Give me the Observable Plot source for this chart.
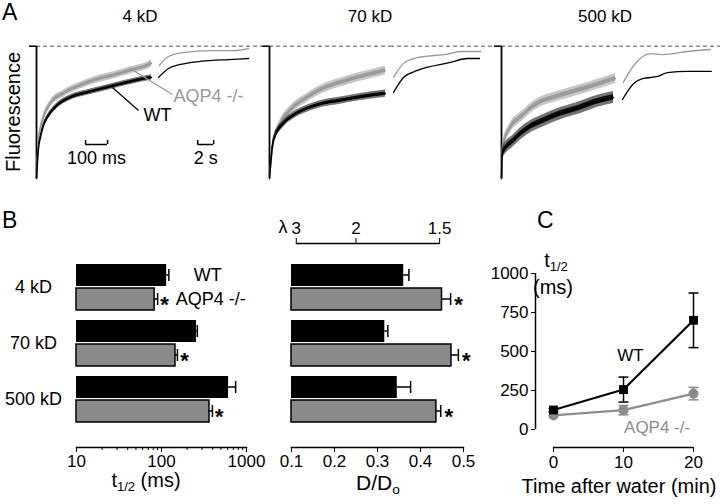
<!DOCTYPE html>
<html><head><meta charset="utf-8">
<script src="https://cdn.jsdelivr.net/npm/d3@7"></script>
<script src="https://cdn.jsdelivr.net/npm/@observablehq/plot@0.6"></script>
<style>
body{margin:0;background:#fff;}
#fig{position:relative;width:720px;height:504px;overflow:hidden;background:#fff;font-family:"Liberation Sans",Arial,Helvetica,sans-serif;color:#000;}
.lbl{position:absolute;white-space:nowrap;line-height:1;}
.lbl sub{font-size:0.65em;vertical-align:-0.3em;line-height:0;}
</style></head><body><div id="fig"></div><script>
// ================= DATA =================
const sizes = ["4 kD", "70 kD", "500 kD"];
const genotypes = ["WT", "AQP4 -/-"];

// Panel A, fast phase: time (ms) and fluorescence as fraction of final (dashed line = 1)
const a4_ko_t   = [0, 9, 18, 32, 64, 123, 200, 277, 350, 427, 505, 523];
const a4_ko_f   = [0, .287, .377, .462, .567, .642, .703, .749, .779, .817, .854, .870];
const a4_wt_t   = [0, 9, 18, 32, 50, 95, 155, 232, 323, 395, 473, 523];
const a4_wt_f   = [0, .227, .310, .401, .462, .552, .612, .650, .688, .718, .748, .764];
const a70_ko_t  = [0, 14, 50, 95, 173, 245, 323, 400, 473, 527];
const a70_ko_f  = [0, .234, .415, .514, .612, .680, .726, .764, .794, .817];
const a70_wt_t  = [0, 18, 64, 109, 173, 245, 323, 400, 527];
const a70_wt_f  = [0, .287, .415, .476, .529, .567, .589, .612, .642];
const a500_ko_t = [0, 4.5, 41, 86, 164, 236, 314, 391, 464, 518];
const a500_ko_f = [0, .234, .386, .462, .567, .612, .650, .688, .726, .756];
const a500_wt_t = [0, 4.5, 55, 118, 191, 268, 345, 418, 509];
const a500_wt_f = [0, .189, .287, .377, .438, .491, .529, .574, .612];
// half-amplitude of the noise band of each fast record
const noiseA = {a4_ko: .027, a4_wt: .021, a70_ko: .034, a70_wt: .027, a500_ko: .038, a500_wt: .046};

// Panel A, slow phase: time (s)
const s4_ko_t   = [0.1, 1.25, 3.1, 6.5, 9.4, 11.25];
const s4_ko_f   = [.854, .922, .952, .967, .967, .982];
const s4_wt_t   = [0, 1.25, 2.75, 5.25, 9.4, 11.25];
const s4_wt_f   = [.764, .832, .862, .885, .900, .907];
const s70_ko_t  = [0, 1.25, 2.5, 7.1, 8.4, 10.9];
const s70_ko_f  = [.764, .870, .907, .944, .960, .960];
const s70_wt_t  = [0, 1.25, 3, 7.1, 9.25, 10.75];
const s70_wt_f  = [.650, .764, .817, .877, .907, .907];
const s500_ko_t = [0.1, 1.4, 3.5, 5, 8.1, 11];
const s500_ko_f = [.726, .854, .944, .937, .960, .975];
const s500_wt_t = [0, 1.4, 2.6, 4.4, 5.6, 8.1, 11.1];
const s500_wt_f = [.597, .718, .756, .771, .801, .809, .809];

// scale bars (panel A)
const barFast = [{t0: 223, t1: 323, f: 0.257, text: "100 ms"}];
const barSlow = [{t0: 4.9, t1: 6.9, f: 0.257, text: "2 s"}];

// Panel B
const t12_wt = [115, 258, 615], t12_wt_err = [7, 6, 130];
const t12_ko = [83, 146, 367],  t12_ko_err = [7, 8, 30];
const dd_wt = [0.361, 0.317, 0.346], dd_wt_err = [0.012, 0.007, 0.031];
const dd_ko = [0.450, 0.472, 0.437], dd_ko_err = [0.020, 0.016, 0.010];
const t12Ticks = [10, 100, 1000];
const t12Minor = [20, 30, 40, 50, 60, 70, 80, 90, 200, 300, 400, 500, 600, 700, 800, 900];
const ddTicks = [0.1, 0.2, 0.3, 0.4, 0.5];
const lambdaTicks = [3, 2, 1.5];

// Panel C
const timeC = [0, 10, 20];
const c_wt = [125, 256, 700], c_wt_err = [10, 80, 175];
const c_ko = [90, 124, 230],  c_ko_err = [0, 30, 40];
const cYTicks = [0, 250, 500, 750, 1000];
const cXTicks = [0, 10, 20];

// ================= HELPERS =================
const FONT = '"Liberation Sans", Arial, Helvetica, sans-serif';
const GRAY = "#999";
const fig = document.getElementById("fig");
function plotAt(left, top, opts) {
  const svg = Plot.plot({...opts, style: {fontFamily: FONT, fontSize: "17px", background: "transparent", overflow: "visible", color: "#000"}});
  svg.style.position = "absolute";
  svg.style.left = left + "px";
  svg.style.top = top + "px";
  fig.appendChild(svg);
  return svg;
}
function label(html, x, baseline, size, anchor = "start", color = "#000") {
  const d = document.createElement("div");
  d.className = "lbl";
  d.innerHTML = html;
  d.style.fontSize = size + "px";
  d.style.left = x + "px";
  d.style.top = (baseline - 0.8465 * size) + "px";
  d.style.color = color;
  if (anchor === "middle") d.style.transform = "translateX(-50%)";
  if (anchor === "end") d.style.transform = "translateX(-100%)";
  fig.appendChild(d);
  return d;
}
const rows = (t, f, n = 0) => t.map((ti, i) => ({t: ti, f: f[i], n}));

// ================= PANEL A =================
const aTop = 40, aY1 = 45.7, aY0 = 178, aBottom = 200;
const msPx = 0.22, sPx = 8;
const dash = () => Plot.ruleY([1], {stroke: "#555", strokeWidth: 1, strokeDasharray: "4,3"});

function scaleBar(bar, h) {
  return [
    Plot.ruleY(bar, {x1: "t0", x2: "t1", y: "f", strokeWidth: 1.5}),
    Plot.ruleX(bar.flatMap(d => [{t: d.t0, f: d.f}, {t: d.t1, f: d.f}]), {x: "t", y1: "f", y2: d => d.f + h, strokeWidth: 1.5}),
    Plot.text(bar, {x: d => (d.t0 + d.t1) / 2, y: "f", text: "text", lineAnchor: "top", dy: 7, fontSize: 18})
  ];
}
function noisyTrace(data, color) {
  return [
    Plot.areaY(data, {x: "t", y1: d => d.f - d.n, y2: d => d.f + d.n, fill: color, fillOpacity: 0.55, curve: "monotone-x"}),
    Plot.areaY(data, {x: "t", y1: d => d.f - d.n * 0.45, y2: d => d.f + d.n * 0.45, fill: color, fillOpacity: 0.9, curve: "monotone-x"}),
    Plot.line(data, {x: "t", y: "f", stroke: color, strokeWidth: 1.5, curve: "monotone-x"})
  ];
}

function fastPlot(left, zeroX, right, ko, wt, extra = []) {
  return plotAt(left, aTop, {
    width: right - left, height: aBottom - aTop,
    marginLeft: zeroX - left, marginRight: 0, marginTop: aY1 - aTop, marginBottom: aBottom - aY0,
    x: {domain: [0, (right - zeroX) / msPx], axis: null},
    y: {domain: [0, 1], axis: null},
    marks: [
      dash(),
      Plot.ruleY([1], {x1: -(zeroX - left) / msPx, x2: 0, strokeWidth: 1.5}),
      Plot.ruleX([0], {y1: 0, y2: 1, strokeWidth: 1.8}),
      ...noisyTrace(ko, GRAY),
      ...noisyTrace(wt, "#000"),
      ...extra
    ]
  });
}
function slowPlot(left, zeroX, right, ko, wt, extra = []) {
  return plotAt(left, aTop, {
    width: right - left, height: aBottom - aTop,
    marginLeft: 0, marginRight: 0, marginTop: aY1 - aTop, marginBottom: aBottom - aY0,
    x: {domain: [(left - zeroX) / sPx, (right - zeroX) / sPx], axis: null},
    y: {domain: [0, 1], axis: null},
    marks: [
      dash(),
      Plot.line(ko, {x: "t", y: "f", stroke: GRAY, strokeWidth: 1.3, curve: "monotone-x"}),
      Plot.line(wt, {x: "t", y: "f", stroke: "#000", strokeWidth: 1.3, curve: "monotone-x"}),
      ...extra
    ]
  });
}

const pointerKO = [{t1: 441, f1: .817, t2: 618, f2: .635}];
const pointerWT = [{t1: 345, f1: .688, t2: 464, f2: .514}];
const labelKO = [{text: genotypes[1], t: 623, f: .620}];
const labelWT = [{text: genotypes[0], t: 486, f: .476}];

fastPlot(29, 36, 155, rows(a4_ko_t, a4_ko_f, noiseA.a4_ko), rows(a4_wt_t, a4_wt_f, noiseA.a4_wt), [
  ...scaleBar(barFast, 0.03),
  Plot.link(pointerKO, {x1: "t1", y1: "f1", x2: "t2", y2: "f2", stroke: GRAY, strokeWidth: 1.2}),
  Plot.link(pointerWT, {x1: "t1", y1: "f1", x2: "t2", y2: "f2", stroke: "#000", strokeWidth: 1.2}),
  Plot.text(labelKO, {x: "t", y: "f", text: "text", fill: GRAY, textAnchor: "start", fontSize: 18}),
  Plot.text(labelWT, {x: "t", y: "f", text: "text", fill: "#000", textAnchor: "start", fontSize: 18})
]);
slowPlot(155, 158, 262, rows(s4_ko_t, s4_ko_f), rows(s4_wt_t, s4_wt_f), scaleBar(barSlow, 0.03));
fastPlot(262, 269, 390, rows(a70_ko_t, a70_ko_f, noiseA.a70_ko), rows(a70_wt_t, a70_wt_f, noiseA.a70_wt));
slowPlot(390, 393, 494, rows(s70_ko_t, s70_ko_f), rows(s70_wt_t, s70_wt_f));
fastPlot(494, 501, 619, rows(a500_ko_t, a500_ko_f, noiseA.a500_ko), rows(a500_wt_t, a500_wt_f, noiseA.a500_wt));
slowPlot(619, 622, 720, rows(s500_ko_t, s500_ko_f), rows(s500_wt_t, s500_wt_f));

label("A", 2, 20, 23);
label(sizes[0], 140, 22.5, 17, "middle");
label(sizes[1], 370, 22.5, 17, "middle");
label(sizes[2], 605, 22.5, 17, "middle");
const fl = label("Fluorescence", 13, 0, 20);
fl.style.top = "112px";
fl.style.transform = "translate(-50%,-50%) rotate(-90deg)";

// ================= PANEL B =================
const bTop = 254, bMT = 10, bAxis = 447, bMB = 40;
const bandY = {domain: sizes, paddingInner: 10 / 56, paddingOuter: 0, insetBottom: 25, round: false, axis: null};
function bRows(v, e) { return sizes.map((s, i) => ({size: s, v: v[i], e: e[i]})); }

function barMarks(wt, ko, base, starDx) {
  const bw = 46, bh = 22, half = bh / 2;
  return [
    Plot.barX(wt, {y: "size", x1: () => base, x2: "v", fill: "#000", insetBottom: bw - bh}),
    Plot.barX(ko, {y: "size", x1: () => base, x2: "v", fill: "#8a8a8a", stroke: "#000", strokeWidth: 1.5, insetTop: bw - bh}),
    Plot.barX(wt, {y: "size", x1: "v", x2: d => d.v + d.e, fill: "#000", insetTop: half - 0.75, insetBottom: bw - half - 0.75}),
    Plot.barX(ko, {y: "size", x1: "v", x2: d => d.v + d.e, fill: "#000", insetTop: bw - half - 0.75, insetBottom: half - 0.75}),
    Plot.tickX(wt, {y: "size", x: d => d.v + d.e, strokeWidth: 1.5, insetTop: half - 6, insetBottom: bw - half - 6}),
    Plot.tickX(ko, {y: "size", x: d => d.v + d.e, strokeWidth: 1.5, insetTop: bw - half - 6, insetBottom: half - 6}),
    Plot.text(ko, {y: "size", x: d => d.v + d.e, text: () => "*", dx: starDx, dy: 17, fontSize: 22, fontWeight: "bold"})
  ];
}

// B left: t1/2 (log)
const wtT = bRows(t12_wt, t12_wt_err), koT = bRows(t12_ko, t12_ko_err);
plotAt(0, bTop, {
  width: 266, height: bAxis - bTop + bMB, marginLeft: 76, marginRight: 20, marginTop: bMT, marginBottom: bMB,
  x: {type: "log", domain: [10, 1000]},
  y: bandY,
  marks: [
    ...barMarks(wtT, koT, 10, 7),
    Plot.text(sizes, {y: d => d, frameAnchor: "left", dx: -43, textAnchor: "middle", fontSize: 18}),
    Plot.text([genotypes[0]], {y: () => sizes[0], x: () => 350, dy: -12, fontSize: 18}),
    Plot.text([genotypes[1]], {y: () => sizes[0], x: () => 380, dy: 12, fontSize: 18}),
    Plot.frame({anchor: "bottom", strokeWidth: 1.5}),
    Plot.axisX({ticks: t12Ticks, tickSize: 5, tickPadding: 2, fontSize: 17, tickFormat: d => String(d), label: null}),
    Plot.axisX({ticks: t12Minor, tickSize: 3, tickFormat: () => "", label: null})
  ]
});
label("t<sub>1/2</sub> (ms)", 146, 487, 20, "middle");

// B right: D/Do
const wtD = bRows(dd_wt, dd_wt_err), koD = bRows(dd_ko, dd_ko_err);
plotAt(281, bTop, {
  width: 202, height: bAxis - bTop + bMB, marginLeft: 10, marginRight: 20, marginTop: bMT, marginBottom: bMB,
  x: {domain: [0.1, 0.5]},
  y: bandY,
  marks: [
    ...barMarks(wtD, koD, 0.1, 8),
    Plot.frame({anchor: "bottom", strokeWidth: 1.5}),
    Plot.axisX({ticks: ddTicks, tickSize: 5, tickPadding: 2, fontSize: 17, tickFormat: d => d.toFixed(1), label: null})
  ]
});
label("D/D<sub>o</sub>", 378, 490, 21, "middle");

// lambda axis (D/Do = 1/lambda^2)
plotAt(281, 213, {
  width: 202, height: 31, marginLeft: 10, marginRight: 20, marginTop: 30, marginBottom: 0,
  x: {domain: [0.1, 0.5], axis: null},
  y: {domain: [0, 1], axis: null},
  marks: [
    Plot.ruleY([1], {x1: () => 1 / (lambdaTicks[0] ** 2), x2: () => 1 / (lambdaTicks[lambdaTicks.length - 1] ** 2), strokeWidth: 1.5}),
    Plot.axisX({anchor: "top", ticks: lambdaTicks.map(l => 1 / (l * l)), tickSize: 6, tickPadding: 4, fontSize: 17,
      tickFormat: d => String(Math.round(Math.sqrt(1 / d) * 10) / 10), label: null})
  ]
});
label("λ", 283, 233, 18, "middle");
label("B", 2, 228, 23);

// ================= PANEL C =================
const cRows = (v, e) => timeC.map((t, i) => ({t, v: v[i], e: e[i]}));
const cWT = cRows(c_wt, c_wt_err), cKO = cRows(c_ko, c_ko_err);
const capSymbol = {draw(ctx, size) { const w = Math.sqrt(size / Math.PI); ctx.moveTo(-w, 0); ctx.lineTo(w, 0); }};
const CGRAY = "#8c8c8c";
const labelsC = [{text: genotypes[0], t: 11, v: 474}];
const labelsC2 = [{text: genotypes[1], t: 14.8, v: 13}];
plotAt(495, 263, {
  width: 225, height: 224, marginLeft: 40, marginRight: 27, marginTop: 10, marginBottom: 40,
  x: {domain: [0, 20], insetLeft: 18},
  y: {domain: [0, 1000], insetBottom: 18},
  marks: [
    Plot.ruleX([0], {y1: 0, y2: 1000, dx: -18, strokeWidth: 1.5}),
    Plot.ruleY([0], {x1: 0, x2: 20, dy: 18, strokeWidth: 1.5}),
    Plot.axisY({ticks: cYTicks, tickSize: 4, tickPadding: 3, fontSize: 17, tickFormat: d => String(d), label: null}),
    Plot.axisX({ticks: cXTicks, tickSize: 5, tickPadding: 3, fontSize: 17, tickFormat: d => String(d), label: null}),
    Plot.ruleX(cKO, {x: "t", y1: d => d.v - d.e, y2: d => d.v + d.e, stroke: CGRAY, strokeWidth: 1.5}),
    Plot.dot(cKO.filter(d => d.e > 0).flatMap(d => [{t: d.t, y: d.v - d.e}, {t: d.t, y: d.v + d.e}]), {x: "t", y: "y", symbol: capSymbol, r: 5, stroke: CGRAY, fill: "none", strokeWidth: 1.5}),
    Plot.line(cKO, {x: "t", y: "v", stroke: CGRAY, strokeWidth: 2.2}),
    Plot.dot(cKO, {x: "t", y: "v", r: 5, fill: CGRAY, stroke: "none"}),
    Plot.ruleX(cWT, {x: "t", y1: d => d.v - d.e, y2: d => d.v + d.e, stroke: "#000", strokeWidth: 1.5}),
    Plot.dot(cWT.flatMap(d => [{t: d.t, y: d.v - d.e}, {t: d.t, y: d.v + d.e}]), {x: "t", y: "y", symbol: capSymbol, r: 5, stroke: "#000", fill: "none", strokeWidth: 1.5}),
    Plot.line(cWT, {x: "t", y: "v", stroke: "#000", strokeWidth: 2.2}),
    Plot.dot(cWT, {x: "t", y: "v", r: 5, symbol: "square", fill: "#000", stroke: "none"}),
    Plot.text(labelsC, {x: "t", y: "v", text: "text", fill: "#000", fontSize: 17}),
    Plot.text(labelsC2, {x: "t", y: "v", text: "text", fill: CGRAY, fontSize: 17})
  ]
});
label("t<sub>1/2</sub>", 556, 267, 20, "middle");
label("(ms)", 553, 294, 20, "middle");
label("Time after water (min)", 619, 493, 20, "middle");
label("C", 537, 228, 23);
</script></body></html>
